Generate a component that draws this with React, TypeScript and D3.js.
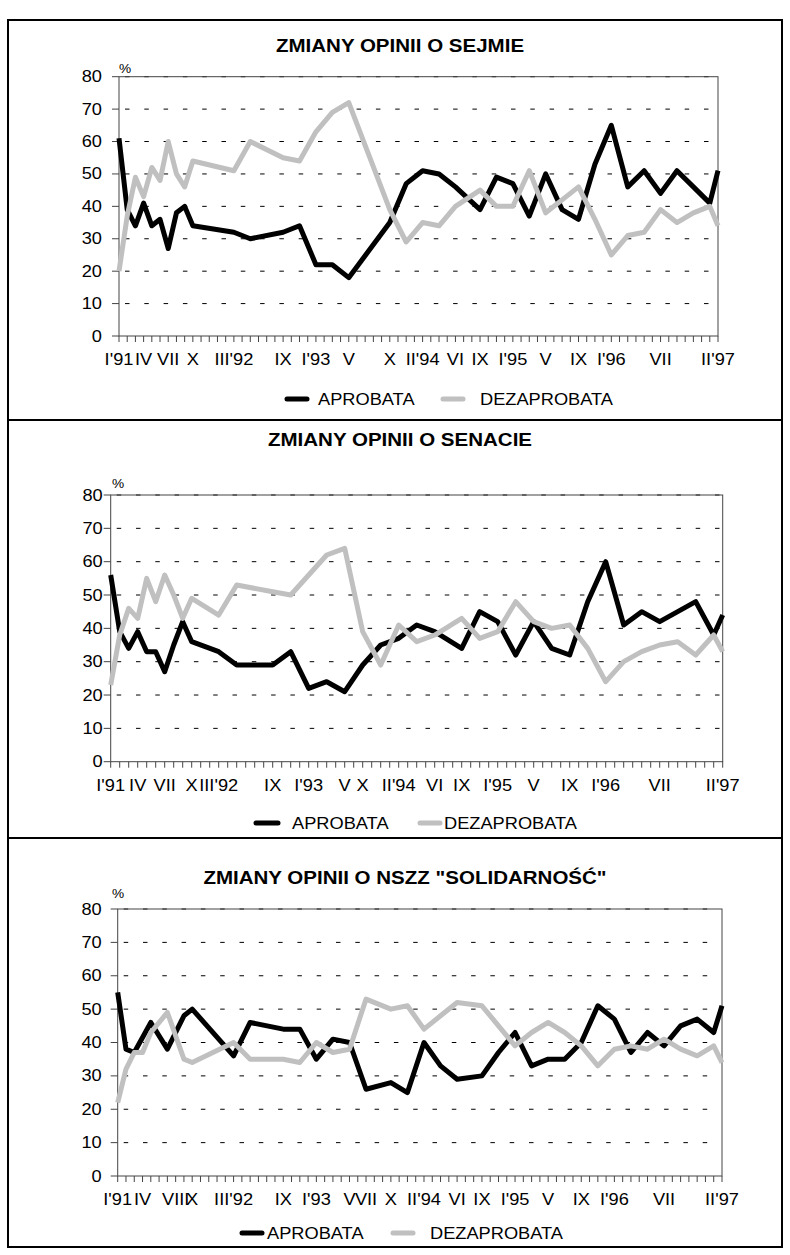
import * as d3 from "d3";
import React from "react";

const _ = null;

// chart 1 – Sejm, monthly categories I'91 .. II'97
const sejmTicks = [
  "I'91", "", "", "IV", "", "", "VII", "", "", "X",
  "", "", "", "", "III'92", "", "", "", "", "",
  "IX", "", "", "", "I'93", "", "", "", "V", "",
  "", "", "", "X", "", "", "", "II'94", "", "",
  "", "VI", "", "", "IX", "", "", "", "I'95", "",
  "", "", "V", "", "", "", "IX", "", "", "",
  "I'96", "", "", "", "", "", "VII", "", "", "",
  "", "", "", "II'97",
];
const sejmApro = [
  61, 39, 34, 41, 34, 36, 27, 38, 40, 34,
  _, _, _, _, 32, _, 30, _, _, _,
  32, _, 34, _, 22, _, 22, _, 18, _,
  _, _, _, 35, _, 47, _, 51, _, 50,
  _, 46, _, _, 39, _, 49, _, 47, _,
  37, _, 50, _, 39, _, 36, _, 53, _,
  65, _, 46, _, 51, _, 44, _, 51, _,
  46, _, 41, 51,
];
const sejmDez = [
  20, 37, 49, 43, 52, 48, 60, 50, 46, 54,
  _, _, _, _, 51, _, 60, _, _, _,
  55, _, 54, _, 63, _, 69, _, 72, _,
  _, _, _, 39, _, 29, _, 35, _, 34,
  _, 40, _, _, 45, _, 40, _, 40, _,
  51, _, 38, _, 42, _, 46, _, 36, _,
  25, _, 31, _, 32, _, 39, _, 35, _,
  38, _, 40, 34,
];

// chart 2 – Senat
const senatTicks = [
  "I'91", "", "", "IV", "", "", "VII", "", "", "X",
  "", "", "III'92", "", "", "", "", "", "IX", "",
  "", "", "I'93", "", "", "", "V", "", "X", "",
  "", "", "II'94", "", "", "", "VI", "", "", "IX",
  "", "", "", "I'95", "", "", "", "V", "", "",
  "", "IX", "", "", "", "I'96", "", "", "", "",
  "", "VII", "", "", "", "", "", "", "II'97",
];
const senatApro = [
  56, 39, 34, 39, 33, 33, 27, 35, 42, 36,
  _, _, 33, _, 29, _, _, _, 29, _,
  33, _, 22, _, 24, _, 21, _, 29, _,
  35, _, 37, _, 41, _, 39, _, _, 34,
  _, 45, _, 42, _, 32, _, 42, _, 34,
  _, 32, _, 48, _, 60, _, 41, _, 45,
  _, 42, _, 45, _, 48, _, 38, 44,
];
const senatDez = [
  23, 38, 46, 43, 55, 48, 56, 50, 43, 49,
  _, _, 44, _, 53, _, _, _, 51, _,
  50, _, 56, _, 62, _, 64, _, 39, _,
  29, _, 41, _, 36, _, 38, _, _, 43,
  _, 37, _, 39, _, 48, _, 42, _, 40,
  _, 41, _, 34, _, 24, _, 30, _, 33,
  _, 35, _, 36, _, 32, _, 38, 33,
];

// chart 3 – NSZZ "Solidarność"
const solTicks = [
  "I'91", "", "", "IV", "", "", "", "VIII", "", "X",
  "", "", "", "", "III'92", "", "", "", "", "",
  "IX", "", "", "", "I'93", "", "", "", "V", "",
  "VII", "", "", "X", "", "", "", "II'94", "", "",
  "", "VI", "", "", "IX", "", "", "", "I'95", "",
  "", "", "V", "", "", "", "IX", "", "", "",
  "I'96", "", "", "", "", "", "VII", "", "", "",
  "", "", "", "II'97",
];
const solApro = [
  55, 38, 37, _, 46, _, 38, _, 48, 50,
  _, _, _, _, 36, _, 46, _, _, _,
  44, _, 44, _, 35, _, 41, _, 40, _,
  26, _, _, 28, _, 25, _, 40, _, 33,
  _, 29, _, _, 30, _, 37, _, 43, _,
  33, _, 35, _, 35, _, 40, _, 51, _,
  47, _, 37, _, 43, _, 39, _, 45, _,
  47, _, 43, 51,
];
const solDez = [
  22, 32, 37, 37, 43, _, 49, _, 35, 34,
  _, _, _, _, 40, _, 35, _, _, _,
  35, _, 34, _, 40, _, 37, _, 38, _,
  53, _, _, 50, _, 51, _, 44, _, 48,
  _, 52, _, _, 51, _, 45, _, 39, _,
  43, _, 46, _, 43, _, 39, _, 33, _,
  38, _, 39, _, 38, _, 41, _, 38, _,
  36, _, 39, 34,
];

const FONT = "'Liberation Sans', Arial, sans-serif";
const STRETCH = 1.14;
const GREY = "#c0c0c0";

function T({ x, y, size = 16, anchor = "start", weight = "normal", children }) {
  return (
    <text
      transform={`translate(${x},${y}) scale(${STRETCH},1)`}
      fontSize={size}
      fontWeight={weight}
      textAnchor={anchor}
      fontFamily={FONT}
      fill="#000"
    >
      {children}
    </text>
  );
}

const panels = [
  {
    title: "ZMIANY OPINII O SEJMIE", titleX: 400, titleY: 52,
    ticks: sejmTicks, apro: sejmApro, dez: sejmDez,
    x0: 119, x1: 718, yTop: 76.7, yBot: 336, labelGap: 17, xLabelY: 365,
    pctX: 119, pctY: 73,
    legendY: 399, aproLine: [287, 307], aproText: 318, dezLine: [443, 463], dezText: 480,
  },
  {
    title: "ZMIANY OPINII O SENACIE", titleX: 400, titleY: 446,
    ticks: senatTicks, apro: senatApro, dez: senatDez,
    x0: 110.7, x1: 722.7, yTop: 495, yBot: 761.7, labelGap: 8, xLabelY: 791,
    pctX: 112, pctY: 488,
    legendY: 823, aproLine: [256, 278], aproText: 292, dezLine: [420, 440], dezText: 444,
  },
  {
    title: "ZMIANY OPINII O NSZZ \"SOLIDARNOŚĆ\"", titleX: 405, titleY: 884,
    ticks: solTicks, apro: solApro, dez: solDez,
    x0: 117.7, x1: 722, yTop: 909, yBot: 1176, labelGap: 16, xLabelY: 1205,
    pctX: 112, pctY: 898,
    legendY: 1233, aproLine: [242, 262], aproText: 267, dezLine: [393, 413], dezText: 430,
  },
];

function Chart({ p }) {
  const n = p.ticks.length;
  const x = d3.scaleLinear().domain([0, n - 1]).range([p.x0, p.x1]);
  const y = d3.scaleLinear().domain([0, 80]).range([p.yBot, p.yTop]);
  const line = d3.line().x(d => x(d[0])).y(d => y(d[1]));
  const pts = arr => arr.map((v, i) => [i, v]).filter(d => d[1] != null);
  const yTicks = y.ticks(8);

  return (
    <g>
      <T x={p.titleX} y={p.titleY} size={18} weight="bold" anchor="middle">{p.title}</T>
      <T x={p.pctX} y={p.pctY} size={12}>%</T>

      {yTicks.filter(v => v > 0).map(v => (
        <line key={`g${v}`} x1={p.x0} x2={p.x1} y1={y(v)} y2={y(v)}
          stroke="#000" strokeWidth={1} strokeDasharray="4.5 14.8" strokeDashoffset={-6} />
      ))}
      <rect x={p.x0} y={p.yTop} width={p.x1 - p.x0} height={p.yBot - p.yTop}
        fill="none" stroke="#444" strokeWidth={1} />

      {yTicks.map(v => (
        <g key={`y${v}`}>
          <line x1={p.x0 - 7} x2={p.x0} y1={y(v)} y2={y(v)} stroke="#444" />
          <T x={p.x0 - p.labelGap} y={y(v) + 5.5} anchor="end">{v}</T>
        </g>
      ))}

      {p.ticks.map((t, i) => (
        <line key={`t${i}`} x1={x(i)} x2={x(i)} y1={p.yBot} y2={p.yBot + 6} stroke="#444" />
      ))}
      {p.ticks.map((t, i) => t ? (
        <T key={`l${i}`} x={x(i)} y={p.xLabelY} anchor="middle">{t}</T>
      ) : null)}

      <path d={line(pts(p.apro))} fill="none" stroke="#000" strokeWidth={5} strokeLinejoin="round" />
      <path d={line(pts(p.dez))} fill="none" stroke={GREY} strokeWidth={5} strokeLinejoin="round" />

      <line x1={p.aproLine[0]} x2={p.aproLine[1]} y1={p.legendY} y2={p.legendY}
        stroke="#000" strokeWidth={5} strokeLinecap="round" />
      <T x={p.aproText} y={p.legendY + 6}>APROBATA</T>
      <line x1={p.dezLine[0]} x2={p.dezLine[1]} y1={p.legendY} y2={p.legendY}
        stroke={GREY} strokeWidth={5} strokeLinecap="round" />
      <T x={p.dezText} y={p.legendY + 6}>DEZAPROBATA</T>
    </g>
  );
}

export default function App() {
  return (
    <div style={{ position: "absolute", left: 0, top: 0 }}>
      <svg width={790} height={1255} style={{ display: "block", background: "#fff" }}>
        <rect x={0} y={0} width={790} height={1255} fill="#fff" />
        <rect x={8} y={20} width={774} height={1227} fill="none" stroke="#000" strokeWidth={2} />
        <line x1={8} x2={782} y1={420} y2={420} stroke="#000" strokeWidth={2} />
        <line x1={8} x2={782} y1={838} y2={838} stroke="#000" strokeWidth={2} />
        {panels.map((p, i) => <Chart key={i} p={p} />)}
      </svg>
    </div>
  );
}
